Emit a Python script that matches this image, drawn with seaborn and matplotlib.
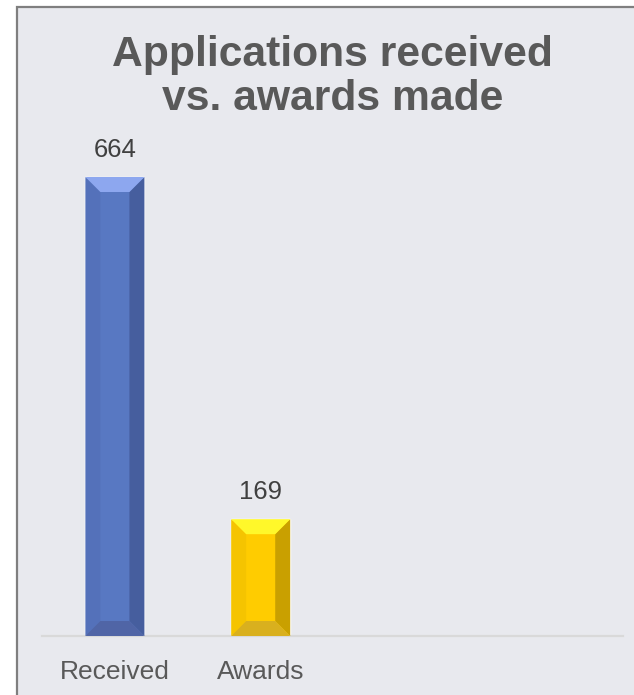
import numpy as np
import matplotlib
matplotlib.use('Agg')
import matplotlib.pyplot as plt
from matplotlib.patches import Polygon, Rectangle
import seaborn as sns

# data
categories = ['Received', 'Awards']
values = [664, 169]
front_colors = ['#5878C2', '#FFCC00']
top_colors = ['#8DA7EF', '#FFF82A']
left_colors = ['#5471BA', '#F5C400']
right_colors = ['#465E9E', '#C9A000']
bottom_colors = ['#5065A6', '#D9B01E']

sns.set_theme(style='white')
plt.rcParams['font.family'] = ['Liberation Sans', 'DejaVu Sans']

W, H = 634, 695
fig = plt.figure(figsize=(W / 100, H / 100), dpi=100)
fig.patch.set_facecolor('white')

# panel with grey border (cut off at right / bottom like the reference)
fig.patches.append(Rectangle((16.5 / W, 0 - 0.01), 1.0, 1 - 6.5 / H + 0.01,
                             transform=fig.transFigure, facecolor='#E8E9EE',
                             edgecolor='#7F7F7F', linewidth=1.6, zorder=-5))

ax_left, ax_right, ax_bottom, ax_top = 42, 623, 636, 150
ax = fig.add_axes([ax_left / W, 1 - ax_bottom / H, (ax_right - ax_left) / W, (ax_bottom - ax_top) / H])
ax.set_facecolor('none')
ax.set_zorder(2)

sns.barplot(x=categories, y=values, hue=categories, palette=front_colors,
            width=0.405, legend=False, ax=ax, saturation=1)
ax.set_xlim(-0.5, 3.485)
ax.set_ylim(0, (ax_bottom - ax_top) / (459 / 664))

# bevel effect, derived from the bars that seaborn drew
bev = 15  # px
px_x = (ax.get_xlim()[1] - ax.get_xlim()[0]) / (ax_right - ax_left)
px_y = (ax.get_ylim()[1] - ax.get_ylim()[0]) / (ax_bottom - ax_top)
bx, by = bev * px_x, bev * px_y
for i, p in enumerate(list(ax.patches)):
    x0, y0 = p.get_x(), p.get_y()
    x1, y1 = x0 + p.get_width(), y0 + p.get_height()
    faces = [
        ([(x0, y0), (x0 + bx, y0 + by), (x0 + bx, y1 - by), (x0, y1)], left_colors[i]),
        ([(x1, y0), (x1 - bx, y0 + by), (x1 - bx, y1 - by), (x1, y1)], right_colors[i]),
        ([(x0, y1), (x1, y1), (x1 - bx, y1 - by), (x0 + bx, y1 - by)], top_colors[i]),
        ([(x0, y0), (x1, y0), (x1 - bx, y0 + by), (x0 + bx, y0 + by)], bottom_colors[i]),
    ]
    for pts, c in faces:
        ax.add_patch(Polygon(pts, closed=True, facecolor=c, edgecolor='none', zorder=3))
    ax.annotate(str(values[i]), (p.get_x() + p.get_width() / 2, y1), xytext=(0, 11),
                textcoords='offset points', ha='center', va='bottom',
                fontsize=18.5, color='#404040')

for s in ['top', 'right', 'left']:
    ax.spines[s].set_visible(False)
ax.spines['bottom'].set_color('#D9D9D9')
ax.spines['bottom'].set_linewidth(1.6)
ax.set_yticks([])
ax.tick_params(axis='x', length=0, pad=17, labelsize=19, labelcolor='#595959')
ax.set_xlabel('')
ax.set_ylabel('')

fig.text((ax_left + ax_right) / 2 / W, 1 - 77 / H, 'Applications received\nvs. awards made',
         ha='center', va='center', fontsize=30.7, fontweight='bold', color='#595959',
         linespacing=1.15, zorder=3)

fig.savefig('out.png', dpi=100)
